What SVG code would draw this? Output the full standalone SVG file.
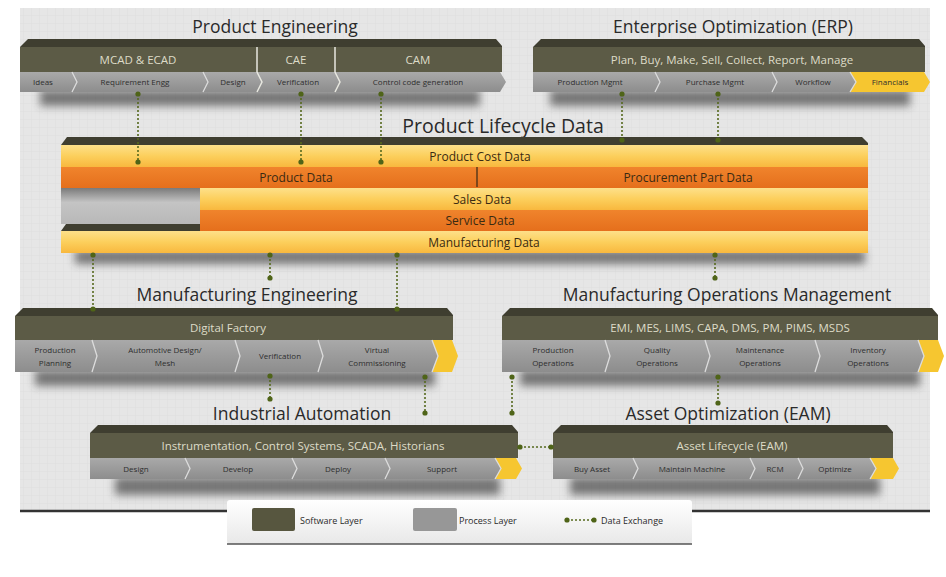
<svg xmlns="http://www.w3.org/2000/svg" width="946" height="577" viewBox="0 0 946 577">
<defs>
<style>
.title{font-family:"Open Sans","Noto Sans",sans-serif;font-size:17.5px;fill:#2a2a2a;text-anchor:middle}
.sw{font-family:"Open Sans","Noto Sans",sans-serif;font-size:11.5px;fill:#dedcc8;text-anchor:middle}
.pr{font-family:"Open Sans","Noto Sans",sans-serif;font-size:8px;fill:#2e2e2e;text-anchor:middle}
.pld{font-family:"Open Sans","Noto Sans",sans-serif;font-size:12px;fill:#3a2a12;text-anchor:middle}
.lg{font-family:"Open Sans","Noto Sans",sans-serif;font-size:9px;fill:#2a2a2a}
.strip{fill:#3f3e30}
.olive{fill:#5c5b46}
.gray{fill:url(#gr)}
.yel{fill:#f6c630}
.chev{fill:none;stroke:#dcdcdc;stroke-width:1.3}
.sep{fill:none;stroke:#e8e8e0;stroke-width:1.5}
.shadow{fill:#3a3a3a;opacity:.65;filter:url(#blur)}
.conn{fill:none;stroke:#56691e;stroke-width:1.6;stroke-dasharray:2 2;marker-start:url(#dot);marker-end:url(#dot)}
.ly{fill:url(#ly)}
.or{fill:url(#or)}
</style>
<linearGradient id="gr" x1="0" y1="0" x2="0" y2="1"><stop offset="0" stop-color="#a9a9a9"/><stop offset="1" stop-color="#8d8d8d"/></linearGradient>
<linearGradient id="ly" x1="0" y1="0" x2="0" y2="1"><stop offset="0" stop-color="#fde08a"/><stop offset=".5" stop-color="#fccf5c"/><stop offset="1" stop-color="#f8b83e"/></linearGradient>
<linearGradient id="or" x1="0" y1="0" x2="0" y2="1"><stop offset="0" stop-color="#f0842c"/><stop offset="1" stop-color="#e56f1c"/></linearGradient>
<linearGradient id="gap" x1="0" y1="0" x2="0" y2="1"><stop offset="0" stop-color="#7a7a7a"/><stop offset=".4" stop-color="#c4c4c4"/><stop offset="1" stop-color="#b8b8b8"/></linearGradient>
<linearGradient id="leg" x1="0" y1="0" x2="0" y2="1"><stop offset="0" stop-color="#ffffff"/><stop offset="1" stop-color="#e8e8e8"/></linearGradient>
<pattern id="grid" width="8" height="8" patternUnits="userSpaceOnUse"><rect width="8" height="8" fill="#e6e6e6"/><path d="M8 0V8M0 8H8" stroke="#dadada" stroke-width="0.6"/></pattern>
<filter id="blur" x="-10%" y="-100%" width="120%" height="300%"><feGaussianBlur stdDeviation="4"/></filter>
<marker id="dot" viewBox="0 0 6 6" refX="3" refY="3" markerWidth="6" markerHeight="6" markerUnits="userSpaceOnUse"><circle cx="3" cy="3" r="2.6" fill="#4f6418"/></marker>
</defs>

<rect width="946" height="577" fill="#ffffff"/>
<rect x="20" y="8" width="910" height="503" fill="url(#grid)"/>
<line x1="20" y1="511" x2="930" y2="511" stroke="#333" stroke-width="2.5"/>

<!-- shadows -->
<rect class="shadow" x="40" y="90" width="440" height="16"/>
<rect class="shadow" x="550" y="90" width="360" height="16"/>
<rect class="shadow" x="75" y="250" width="790" height="14"/>
<rect class="shadow" x="35" y="370" width="400" height="16"/>
<rect class="shadow" x="520" y="370" width="400" height="16"/>
<rect class="shadow" x="115" y="477" width="385" height="18"/>
<rect class="shadow" x="570" y="477" width="310" height="18"/>

<text class="title" x="275" y="33">Product Engineering</text>
<text class="title" x="733" y="33">Enterprise Optimization (ERP)</text>
<text class="title" x="503" y="133" style="font-size:19.5px">Product Lifecycle Data</text>
<text class="title" x="247" y="301">Manufacturing Engineering</text>
<text class="title" x="727" y="301">Manufacturing Operations Management</text>
<text class="title" x="302" y="420">Industrial Automation</text>
<text class="title" x="728" y="420">Asset Optimization (EAM)</text>

<!-- Product Engineering -->
<g id="product-engineering">
<polygon class="strip" points="20,47 28,39 496,39 502,46 502,47"/>
<rect class="olive" x="20" y="47" width="482" height="25"/>
<polygon class="gray" points="20,72 500,72 506,82 500,92 20,92"/>
<path class="sep" d="M257,47V72L262,82L257,92M335,47V72L340,82L335,92"/>
<path class="chev" d="M72,72L77,82L72,92M203,72L208,82L203,92"/>
<text class="sw" x="138" y="64">MCAD &amp; ECAD</text>
<text class="sw" x="296" y="64">CAE</text>
<text class="sw" x="418" y="64">CAM</text>
<text class="pr" x="43" y="85">Ideas</text>
<text class="pr" x="135" y="85">Requirement Engg</text>
<text class="pr" x="233" y="85">Design</text>
<text class="pr" x="298" y="85">Verification</text>
<text class="pr" x="418" y="85">Control code generation</text>
</g>

<!-- ERP -->
<g id="erp">
<polygon class="strip" points="533,47 541,39 919,39 925,46 925,47"/>
<rect class="olive" x="533" y="47" width="392" height="25"/>
<polygon class="gray" points="533,72 850,72 856,82 850,92 533,92"/>
<polygon class="yel" points="850,72 924,72 930,82 924,92 850,92 856,82"/>
<path class="chev" d="M655,72L660,82L655,92M772,72L777,82L772,92M850,72L856,82L850,92"/>
<text class="sw" x="732" y="64">Plan, Buy, Make, Sell, Collect, Report, Manage</text>
<text class="pr" x="590" y="85">Production Mgmt</text>
<text class="pr" x="715" y="85">Purchase Mgmt</text>
<text class="pr" x="813" y="85">Workflow</text>
<text class="pr" x="890" y="85">Financials</text>
</g>

<!-- Product Lifecycle Data -->
<g id="product-lifecycle-data">
<rect x="61" y="188" width="139" height="36" fill="url(#gap)"/>
<polygon class="strip" points="61,145 67,137 862,137 868,143 868,145"/>
<rect class="ly" x="61" y="145" width="807" height="22"/>
<rect class="or" x="61" y="167" width="807" height="21"/>
<line x1="477" y1="167" x2="477" y2="187" stroke="#5a3a1a" stroke-width="1.5"/>
<rect class="ly" x="200" y="188" width="668" height="22"/>
<rect class="or" x="200" y="210" width="668" height="21"/>
<polygon class="strip" points="61,231 66,224 200,224 200,231"/>
<rect class="ly" x="61" y="231" width="807" height="22"/>
<text class="pld" x="480" y="161">Product Cost Data</text>
<text class="pld" x="296" y="182">Product Data</text>
<text class="pld" x="688" y="182">Procurement Part Data</text>
<text class="pld" x="482" y="204">Sales Data</text>
<text class="pld" x="480" y="225">Service Data</text>
<text class="pld" x="484" y="247">Manufacturing Data</text>
</g>

<!-- Manufacturing Engineering -->
<g id="manufacturing-engineering">
<polygon class="strip" points="15,316 23,308 447,308 453,315 453,316"/>
<rect class="olive" x="15" y="316" width="438" height="24"/>
<polygon class="gray" points="15,340 432,340 438,356 432,372 15,372"/>
<polygon class="yel" points="432,340 452,340 458,356 452,372 432,372 438,356"/>
<path class="chev" d="M92,340L97,356L92,372M235,340L240,356L235,372M318,340L323,356L318,372M432,340L438,356L432,372"/>
<text class="sw" x="228" y="332">Digital Factory</text>
<text class="pr" x="55" y="353">Production</text><text class="pr" x="55" y="366">Planning</text>
<text class="pr" x="165" y="353">Automotive Design/</text><text class="pr" x="165" y="366">Mesh</text>
<text class="pr" x="280" y="359">Verification</text>
<text class="pr" x="377" y="353">Virtual</text><text class="pr" x="377" y="366">Commissioning</text>
</g>

<!-- Manufacturing Operations Management -->
<g id="manufacturing-operations-management">
<polygon class="strip" points="502,316 510,308 932,308 938,315 938,316"/>
<rect class="olive" x="502" y="316" width="436" height="24"/>
<polygon class="gray" points="502,340 918,340 924,356 918,372 502,372"/>
<polygon class="yel" points="918,340 938,340 944,356 938,372 918,372 924,356"/>
<path class="chev" d="M605,340L610,356L605,372M705,340L710,356L705,372M815,340L820,356L815,372M918,340L924,356L918,372"/>
<text class="sw" x="730" y="332">EMI, MES, LIMS, CAPA, DMS, PM, PIMS, MSDS</text>
<text class="pr" x="553" y="353">Production</text><text class="pr" x="553" y="366">Operations</text>
<text class="pr" x="657" y="353">Quality</text><text class="pr" x="657" y="366">Operations</text>
<text class="pr" x="760" y="353">Maintenance</text><text class="pr" x="760" y="366">Operations</text>
<text class="pr" x="868" y="353">Inventory</text><text class="pr" x="868" y="366">Operations</text>
</g>

<!-- Industrial Automation -->
<g id="industrial-automation">
<polygon class="strip" points="90,433 98,425 512,425 518,432 518,433"/>
<rect class="olive" x="90" y="433" width="428" height="25"/>
<polygon class="gray" points="90,458 495,458 501,468.5 495,479 90,479"/>
<polygon class="yel" points="495,458 516,458 522,468.5 516,479 495,479 501,468.5"/>
<path class="chev" d="M185,458L190,468.5L185,479M292,458L297,468.5L292,479M385,458L390,468.5L385,479M495,458L501,468.5L495,479"/>
<text class="sw" x="303" y="450">Instrumentation, Control Systems, SCADA, Historians</text>
<text class="pr" x="136" y="472">Design</text>
<text class="pr" x="238" y="472">Develop</text>
<text class="pr" x="338" y="472">Deploy</text>
<text class="pr" x="442" y="472">Support</text>
</g>

<!-- Asset Optimization -->
<g id="asset-optimization">
<polygon class="strip" points="553,433 561,425 887,425 893,432 893,433"/>
<rect class="olive" x="553" y="433" width="340" height="25"/>
<polygon class="gray" points="553,458 870,458 876,468.5 870,479 553,479"/>
<polygon class="yel" points="870,458 893,458 899,468.5 893,479 870,479 876,468.5"/>
<path class="chev" d="M633,458L638,468.5L633,479M750,458L755,468.5L750,479M798,458L803,468.5L798,479M870,458L876,468.5L870,479"/>
<text class="sw" x="732" y="450">Asset Lifecycle (EAM)</text>
<text class="pr" x="592" y="472">Buy Asset</text>
<text class="pr" x="692" y="472">Maintain Machine</text>
<text class="pr" x="775" y="472">RCM</text>
<text class="pr" x="835" y="472">Optimize</text>
</g>

<!-- connectors -->
<g id="connectors">
<line class="conn" x1="138" y1="94" x2="138" y2="162"/>
<line class="conn" x1="301" y1="94" x2="301" y2="162"/>
<line class="conn" x1="381" y1="94" x2="381" y2="162"/>
<line class="conn" x1="622" y1="94" x2="622" y2="140"/>
<line class="conn" x1="718" y1="94" x2="718" y2="140"/>
<line class="conn" x1="93" y1="255" x2="93" y2="309"/>
<line class="conn" x1="270" y1="255" x2="270" y2="278"/>
<line class="conn" x1="397" y1="255" x2="397" y2="309"/>
<line class="conn" x1="715" y1="255" x2="715" y2="278"/>
<line class="conn" x1="270" y1="376" x2="270" y2="399"/>
<line class="conn" x1="425" y1="377" x2="425" y2="413"/>
<line class="conn" x1="512" y1="377" x2="512" y2="413"/>
<line class="conn" x1="718" y1="377" x2="718" y2="403"/>
<line class="conn" x1="520" y1="447" x2="551" y2="447"/>
</g>

<!-- legend -->
<g id="legend">
<rect x="227" y="500" width="465" height="44" rx="3" fill="url(#leg)"/>
<line x1="227" y1="544" x2="692" y2="544" stroke="#555" stroke-width="1.5"/>
<rect x="252" y="508" width="43" height="23" rx="2" fill="#57563f"/>
<text class="lg" x="300" y="524">Software Layer</text>
<rect x="413" y="508" width="44" height="23" rx="2" fill="#979797"/>
<text class="lg" x="459" y="524">Process Layer</text>
<line class="conn" x1="567" y1="520" x2="594" y2="520"/>
<text class="lg" x="601" y="524">Data Exchange</text>
</g>
</svg>
